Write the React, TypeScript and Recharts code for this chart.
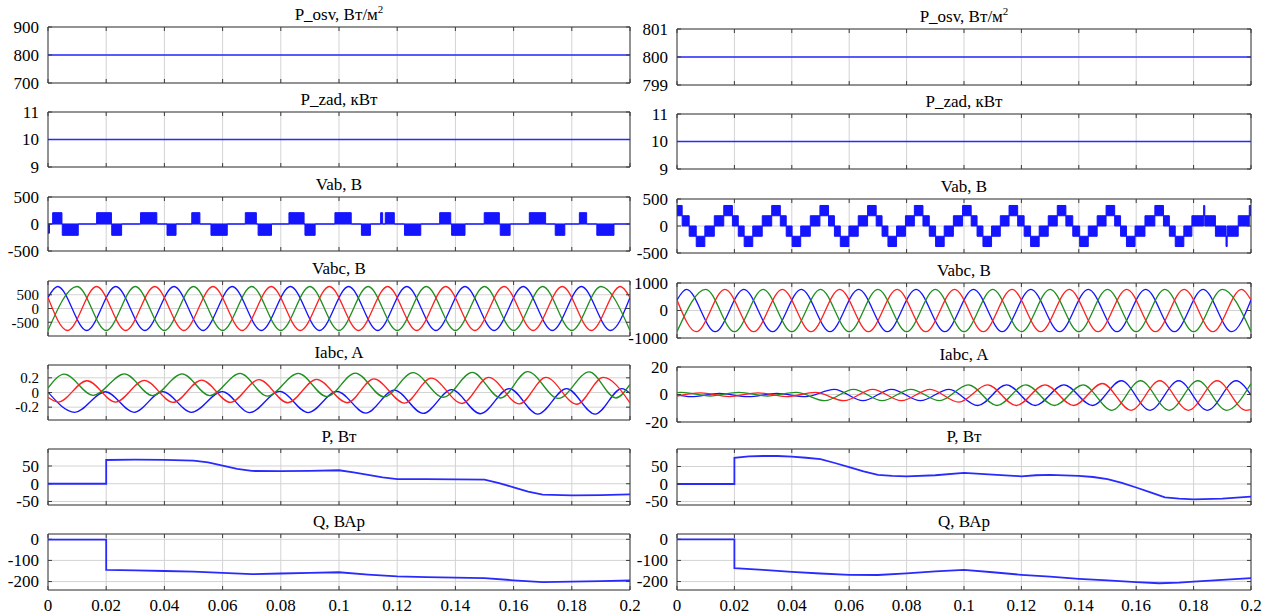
import React from 'react';
import { ComposedChart, Line, Area, XAxis, YAxis, CartesianGrid, ReferenceArea } from 'recharts';

type Pt = [number, number];

const timeTicks = [0, 0.02, 0.04, 0.06, 0.08, 0.1, 0.12, 0.14, 0.16, 0.18, 0.2];

// P_osv, P_zad - constant set-points
const posvLeft: Pt[] = [[0, 800], [0.2, 800]];
const posvRight: Pt[] = [[0, 800], [0.2, 800]];
const pzadLeft: Pt[] = [[0, 10], [0.2, 10]];
const pzadRight: Pt[] = [[0, 10], [0.2, 10]];

// Vab left: switching pulses [start, end, level]
const vabLeftPulses: [number, number, number][] = [
  [0, 0.0005, -170],
  [0.0016, 0.0048, 210], [0.0049, 0.0104, -210],
  [0.0167, 0.0218, 210], [0.0219, 0.0253, -210],
  [0.0318, 0.0374, 210], [0.0409, 0.044, -210],
  [0.0494, 0.0522, 210], [0.056, 0.0616, -210],
  [0.0678, 0.0716, 210], [0.0722, 0.0768, -210],
  [0.0828, 0.088, 210], [0.0883, 0.0918, -210],
  [0.0986, 0.1042, 210], [0.1077, 0.1108, -210], [0.1143, 0.115, 210],
  [0.1159, 0.119, 210], [0.1225, 0.1281, -210],
  [0.1346, 0.1384, 210], [0.1387, 0.1433, -210],
  [0.1499, 0.1551, 210], [0.1554, 0.1588, -210],
  [0.1654, 0.171, 210], [0.1743, 0.1776, -210],
  [0.1826, 0.1851, 210], [0.1886, 0.1945, -210],
];

// Vab right: multilevel staircase, extrema centres
const vabRightPeaks = [0.0003, 0.0178, 0.0345, 0.0513, 0.0679, 0.0842, 0.101, 0.1172, 0.134, 0.151, 0.168, 0.1837, 0.1996];
const vabRightTroughs = [0.0082, 0.0249, 0.0416, 0.0584, 0.075, 0.0916, 0.1081, 0.1247, 0.1418, 0.1581, 0.1751, 0.1915];
const vabRightSpikes = [0.1837, 0.1915, 0.1996];
const vabRightLevels = [190, 380];

// Vabc, per-unit extrema (same timing both columns)
const vabcAmpLeft = 800;
const vabcAmpRight = 770;
const vabcBluePu: Pt[] = [[0, 0.5], [0.0033, 1], [0.0133, -1], [0.0233, 1], [0.0333, -1], [0.0433, 1], [0.0533, -1], [0.0633, 1], [0.0733, -1], [0.0833, 1], [0.0933, -1], [0.1033, 1], [0.1133, -1], [0.1233, 1], [0.1333, -1], [0.1433, 1], [0.1533, -1], [0.1633, 1], [0.1733, -1], [0.1833, 1], [0.1933, -1], [0.2, 0.5]];
const vabcGreenPu: Pt[] = [[0, -1], [0.01, 1], [0.02, -1], [0.03, 1], [0.04, -1], [0.05, 1], [0.06, -1], [0.07, 1], [0.08, -1], [0.09, 1], [0.1, -1], [0.11, 1], [0.12, -1], [0.13, 1], [0.14, -1], [0.15, 1], [0.16, -1], [0.17, 1], [0.18, -1], [0.19, 1], [0.2, -1]];
const vabcRedPu: Pt[] = [[0, 0.5], [0.0067, -1], [0.0167, 1], [0.0267, -1], [0.0367, 1], [0.0467, -1], [0.0567, 1], [0.0667, -1], [0.0767, 1], [0.0867, -1], [0.0967, 1], [0.1067, -1], [0.1167, 1], [0.1267, -1], [0.1367, 1], [0.1467, -1], [0.1567, 1], [0.1667, -1], [0.1767, 1], [0.1867, -1], [0.1967, 1], [0.2, 0.5]];

// Iabc left (A)
const iaGreenLeft: Pt[] = [[0, 0.06], [0.0056, 0.25], [0.0155, -0.038], [0.0263, 0.255], [0.0359, -0.043], [0.0461, 0.255], [0.0556, -0.043], [0.066, 0.26], [0.0754, -0.05], [0.086, 0.26], [0.0958, -0.055], [0.1056, 0.265], [0.1155, -0.06], [0.1254, 0.27], [0.1359, -0.065], [0.1458, 0.275], [0.1556, -0.075], [0.1648, 0.285], [0.1754, -0.08], [0.186, 0.28], [0.1951, -0.075], [0.2, 0.11]];
const iaRedLeft: Pt[] = [[0, -0.065], [0.0035, -0.13], [0.0134, 0.16], [0.0232, -0.13], [0.0331, 0.165], [0.043, -0.135], [0.0528, 0.17], [0.0627, -0.135], [0.0725, 0.175], [0.0824, -0.14], [0.0923, 0.18], [0.1028, -0.14], [0.112, 0.185], [0.1225, -0.145], [0.1317, 0.195], [0.1423, -0.15], [0.1514, 0.205], [0.162, -0.155], [0.1711, 0.205], [0.1817, -0.16], [0.1908, 0.205], [0.2, -0.14]];
const iaBlueLeft: Pt[] = [[0, 0.005], [0.0092, -0.27], [0.0197, 0.01], [0.0296, -0.27], [0.0394, 0.013], [0.0493, -0.27], [0.0599, 0.013], [0.0693, -0.275], [0.0796, 0.016], [0.0894, -0.275], [0.0993, 0.016], [0.1092, -0.28], [0.119, 0.032], [0.1289, -0.285], [0.1387, 0.038], [0.1486, -0.29], [0.1585, 0.054], [0.1683, -0.295], [0.1782, 0.054], [0.188, -0.295], [0.1972, 0.054], [0.2, -0.01]];

// Iabc right (A)
const iaGreenRight: Pt[] = [[0, 1.4], [0.0015, 1.5], [0.0115, -1.1], [0.0215, 1.5], [0.0315, -1.1], [0.0415, 1.5], [0.0515, -4.5], [0.0615, 3.8], [0.0715, -4.5], [0.0815, 3.8], [0.0915, -4.5], [0.1015, 7], [0.1115, -8], [0.1215, 7], [0.1315, -8], [0.1415, 7], [0.1515, -11.5], [0.1615, 10], [0.1715, -11.5], [0.1815, 10], [0.1915, -11.5], [0.2, 8]];
const iaRedRight: Pt[] = [[0, -1.2], [0.0082, 1.2], [0.0182, -1.5], [0.0282, 1.2], [0.0382, -1.5], [0.0482, 1.5], [0.0582, -4.5], [0.0682, 3.8], [0.0782, -4.5], [0.0882, 3.8], [0.0982, -5.5], [0.1082, 7], [0.1182, -8], [0.1282, 7], [0.1382, -8], [0.1482, 8], [0.1582, -11.5], [0.1682, 10], [0.1782, -11.5], [0.1882, 10], [0.1982, -11.5], [0.2, -11]];
const iaBlueRight: Pt[] = [[0, -0.3], [0.0048, -1.6], [0.0148, 0.8], [0.0248, -1.6], [0.0348, 0.8], [0.0448, -1.6], [0.0548, 3.8], [0.0648, -4.5], [0.0748, 3.8], [0.0848, -4.5], [0.0948, 3.8], [0.1048, -8], [0.1148, 7], [0.1248, -8], [0.1348, 7], [0.1448, -8], [0.1548, 10], [0.1648, -11.5], [0.1748, 10], [0.1848, -11.5], [0.1948, 10], [0.2, -0.5]];

// P, W
const pLeft: Pt[] = [[0, 0], [0.02, 0], [0.02, 67], [0.03, 68], [0.04, 67.5], [0.05, 65], [0.055, 60], [0.06, 51], [0.065, 42], [0.07, 36], [0.08, 35.5], [0.09, 36.5], [0.1, 38], [0.105, 32], [0.11, 25], [0.115, 18], [0.12, 13], [0.13, 13], [0.14, 12.5], [0.15, 11.5], [0.155, 2], [0.16, -10], [0.165, -22], [0.17, -31], [0.18, -33], [0.19, -32], [0.2, -30]];
const pRight: Pt[] = [[0, 0], [0.02, 0], [0.02, 75], [0.025, 79], [0.03, 80], [0.035, 80], [0.04, 78], [0.045, 75], [0.05, 71], [0.055, 60], [0.06, 48], [0.065, 36], [0.07, 26], [0.075, 23], [0.08, 22], [0.09, 25], [0.1, 32], [0.11, 27], [0.12, 22], [0.125, 25], [0.13, 26], [0.14, 23], [0.145, 20], [0.15, 14], [0.155, 3], [0.16, -10], [0.165, -24], [0.17, -38], [0.175, -42], [0.18, -44], [0.19, -42], [0.2, -36]];

// Q, VAr
const qLeft: Pt[] = [[0, -2], [0.02, -2], [0.02, -145], [0.03, -147], [0.04, -150], [0.05, -153], [0.06, -159], [0.07, -165], [0.08, -162], [0.09, -159], [0.1, -156], [0.11, -167], [0.12, -176], [0.13, -179], [0.14, -181], [0.15, -184], [0.16, -194], [0.17, -203], [0.18, -200], [0.19, -198], [0.2, -195]];
const qRight: Pt[] = [[0, 0], [0.02, 0], [0.02, -137], [0.03, -145], [0.04, -154], [0.05, -162], [0.06, -168], [0.07, -169], [0.08, -161], [0.09, -152], [0.1, -145], [0.11, -156], [0.12, -168], [0.13, -177], [0.14, -187], [0.15, -194], [0.16, -203], [0.168, -208], [0.175, -205], [0.18, -200], [0.19, -192], [0.2, -184]];

const BLUE = '#1414ff';
const LINE_BLUE = '#2a2aff';
const RED = '#ff2020';
const GREEN = '#1f8f1f';
const GRID = '#d3d3d3';
const FRAME = '#3c3c3c';
const FONT = "'Liberation Serif', 'DejaVu Serif', 'Liberation Sans Narrow', 'DejaVu Sans Condensed', 'Times New Roman', serif";

const pts = (a: Pt[], k = 1) => a.map(([t, v]) => ({ t, v: v * k }));

const pulseSteps = (pulses: [number, number, number][]) => {
  const out: { t: number; r: [number, number] }[] = [];
  pulses.forEach(([a, b, lv]) => {
    out.push({ t: a, r: lv > 0 ? [0, lv] : [lv, 0] });
    out.push({ t: b, r: [0, 0] });
  });
  out.push({ t: 0.2, r: [0, 0] });
  return out;
};

const staircase = (peaks: number[], troughs: number[], spikes: number[], lv: number[]) => {
  const ext = [...peaks.map((t) => ({ t, s: 1 })), ...troughs.map((t) => ({ t, s: -1 }))].sort((a, b) => a.t - b.t);
  const out: { t: number; r: [number, number] }[] = [];
  ext.forEach((e, i) => {
    const w = spikes.includes(e.t) ? 0.0002 : 0.0015;
    const outer: [number, number] = e.s > 0 ? [lv[0], lv[1]] : [-lv[1], -lv[0]];
    out.push({ t: Math.max(0, e.t - w), r: outer });
    const next = ext[i + 1];
    if (next) {
      out.push({ t: e.t + w, r: e.s > 0 ? [0, lv[0]] : [-lv[0], 0] });
      out.push({ t: (e.t + next.t) / 2, r: e.s > 0 ? [-lv[0], 0] : [0, lv[0]] });
    } else {
      out.push({ t: 0.2, r: outer });
    }
  });
  return out;
};

const line = (key: string, data: { t: number; v: number }[], color: string, width = 1.3, type: any = 'monotone') => (
  <Line key={key} data={data} dataKey="v" type={type} stroke={color} strokeWidth={width} dot={false} activeDot={false} isAnimationActive={false} />
);

const blocks = (key: string, data: { t: number; r: [number, number] }[]) => (
  <Area key={key} data={data} dataKey="r" type="stepAfter" stroke={BLUE} strokeWidth={1} fill={BLUE} fillOpacity={1} dot={false} activeDot={false} isAnimationActive={false} />
);

type PanelProps = {
  x: number; y: number; w: number; h: number;
  title: React.ReactNode;
  domain: [number, number];
  ticks: number[];
  tickFont: number;
  bottom: boolean;
  series: React.ReactNode[];
};

function Panel({ x, y, w, h, title, domain, ticks, tickFont, bottom, series }: PanelProps) {
  const YW = 60, MT = 12, MR = 22;
  const xh = bottom ? 28 : 10;
  const pl = YW, pr = YW + w, pt = MT, pb = MT + h;

  const xTick = (p: any) => (
    <g>
      <line x1={p.x} x2={p.x} y1={pb} y2={pb - 4} stroke={FRAME} />
      <line x1={p.x} x2={p.x} y1={pt} y2={pt + 4} stroke={FRAME} />
      {bottom && (
        <text x={p.x} y={pb + 21} textAnchor="middle" fontSize={17} fontFamily={FONT} fill="#000">
          {String(p.payload.value)}
        </text>
      )}
    </g>
  );

  const yTick = (p: any) => (
    <g>
      <line x1={pl} x2={pl + 4} y1={p.y} y2={p.y} stroke={FRAME} />
      <line x1={pr - 4} x2={pr} y1={p.y} y2={p.y} stroke={FRAME} />
      <text x={pl - 9} y={p.y} dy="0.35em" textAnchor="end" fontSize={tickFont} fontFamily={FONT} fill="#000">
        {String(p.payload.value)}
      </text>
    </g>
  );

  return (
    <>
      <div
        style={{
          position: 'absolute', left: x + w / 2, top: y - 21, transform: 'translateX(-50%)',
          fontSize: 17, lineHeight: '17px', whiteSpace: 'nowrap', fontFamily: FONT, color: '#000',
        }}
      >
        {title}
      </div>
      <div style={{ position: 'absolute', left: x - YW, top: y - MT }}>
        <ComposedChart width={YW + w + MR} height={MT + h + xh} margin={{ top: MT, right: MR, bottom: 0, left: 0 }}>
          <CartesianGrid stroke={GRID} />
          <XAxis dataKey="t" type="number" domain={[0, 0.2]} ticks={timeTicks} interval={0} height={xh}
            axisLine={false} tickLine={false} tick={xTick} allowDataOverflow />
          <YAxis type="number" domain={domain} ticks={ticks} interval={0} width={YW}
            axisLine={false} tickLine={false} tick={yTick} allowDataOverflow />
          {series}
          <ReferenceArea x1={0} x2={0.2} y1={domain[0]} y2={domain[1]} fill="none" fillOpacity={0} stroke={FRAME} strokeWidth={1} ifOverflow="visible" />
        </ComposedChart>
      </div>
    </>
  );
}

const cols = [
  { x: 48, w: 582, tops: [27, 112, 197, 281, 365, 449, 534] },
  { x: 677, w: 574, tops: [29, 114, 199, 283, 367, 449, 534] },
];
const rowH = [56, 55, 54, 55, 55, 56, 56];

const osvTitle = <>P_osv, Вт/м<sup style={{ fontSize: 11, lineHeight: 0 }}>2</sup></>;

const panels = [
  // left column
  [
    { title: osvTitle, domain: [700, 900], ticks: [700, 800, 900], series: [line('a', pts(posvLeft), LINE_BLUE, 1.6, 'linear')] },
    { title: 'P_zad, кВт', domain: [9, 11], ticks: [9, 10, 11], series: [line('a', pts(pzadLeft), LINE_BLUE, 1.6, 'linear')] },
    { title: 'Vab, B', domain: [-500, 500], ticks: [-500, 0, 500], series: [blocks('a', pulseSteps(vabLeftPulses))] },
    { title: 'Vabc, B', domain: [-1000, 1000], ticks: [-500, 0, 500], font: 15, series: [
      line('b', pts(vabcBluePu, vabcAmpLeft), BLUE), line('g', pts(vabcGreenPu, vabcAmpLeft), GREEN), line('r', pts(vabcRedPu, vabcAmpLeft), RED)] },
    { title: 'Iabc, A', domain: [-0.375, 0.375], ticks: [-0.2, 0, 0.2], font: 15, series: [
      line('b', pts(iaBlueLeft), BLUE), line('g', pts(iaGreenLeft), GREEN), line('r', pts(iaRedLeft), RED)] },
    { title: 'P, Вт', domain: [-60, 98], ticks: [-50, 0, 50], series: [line('a', pts(pLeft), LINE_BLUE, 1.8, 'linear')] },
    { title: 'Q, ВАр', domain: [-240, 25], ticks: [-200, -100, 0], series: [line('a', pts(qLeft), LINE_BLUE, 1.8, 'linear')] },
  ],
  // right column
  [
    { title: osvTitle, domain: [799, 801], ticks: [799, 800, 801], series: [line('a', pts(posvRight), LINE_BLUE, 1.6, 'linear')] },
    { title: 'P_zad, кВт', domain: [9, 11], ticks: [9, 10, 11], series: [line('a', pts(pzadRight), LINE_BLUE, 1.6, 'linear')] },
    { title: 'Vab, B', domain: [-500, 500], ticks: [-500, 0, 500], series: [blocks('a', staircase(vabRightPeaks, vabRightTroughs, vabRightSpikes, vabRightLevels))] },
    { title: 'Vabc, B', domain: [-1000, 1000], ticks: [-1000, 0, 1000], series: [
      line('b', pts(vabcBluePu, vabcAmpRight), BLUE), line('g', pts(vabcGreenPu, vabcAmpRight), GREEN), line('r', pts(vabcRedPu, vabcAmpRight), RED)] },
    { title: 'Iabc, A', domain: [-20, 20], ticks: [-20, 0, 20], series: [
      line('b', pts(iaBlueRight), BLUE), line('g', pts(iaGreenRight), GREEN), line('r', pts(iaRedRight), RED)] },
    { title: 'P, Вт', domain: [-60, 100], ticks: [-50, 0, 50], series: [line('a', pts(pRight), LINE_BLUE, 1.8, 'linear')] },
    { title: 'Q, ВАр', domain: [-240, 25], ticks: [-200, -100, 0], series: [line('a', pts(qRight), LINE_BLUE, 1.8, 'linear')] },
  ],
];

export default function App() {
  return (
    <div style={{ position: 'absolute', left: 0, top: 0, width: 1277, height: 616, background: '#fff', overflow: 'hidden', fontFamily: FONT }}>
      {panels.map((col, ci) =>
        col.map((p: any, ri) => (
          <Panel
            key={`${ci}-${ri}`}
            x={cols[ci].x}
            y={cols[ci].tops[ri]}
            w={cols[ci].w}
            h={rowH[ri]}
            title={p.title}
            domain={p.domain as [number, number]}
            ticks={p.ticks}
            tickFont={p.font ?? 17}
            bottom={ri === 6}
            series={p.series}
          />
        ))
      )}
    </div>
  );
}
